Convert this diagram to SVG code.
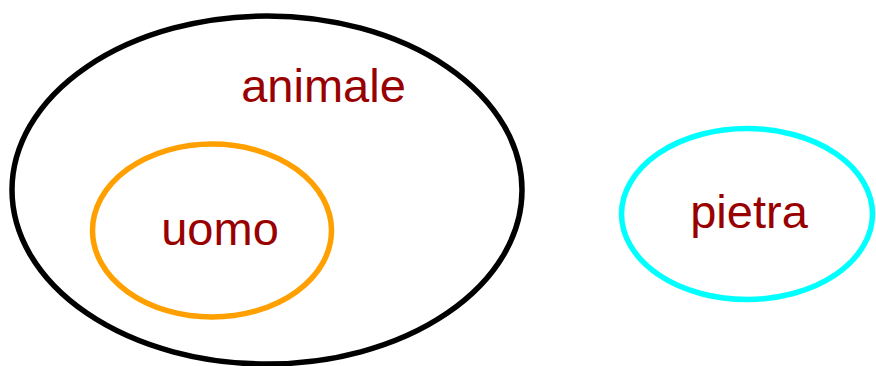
<svg xmlns="http://www.w3.org/2000/svg" width="876" height="366" viewBox="0 0 876 366">
  <style>
    .set { fill: none; stroke-width: 5.5; }
    .label { font-family: "Liberation Sans", Arial, sans-serif; font-size: 47px; fill: #990000; text-anchor: middle; }
  </style>
  <rect width="876" height="366" fill="#ffffff"/>
  <g id="animale">
    <ellipse class="set" cx="267" cy="190" rx="255" ry="174" stroke="#000000"/>
    <text class="label" x="323.5" y="102">animale</text>
  </g>
  <g id="uomo">
    <ellipse class="set" cx="212" cy="230.5" rx="119.5" ry="86.5" stroke="#ffa000"/>
    <text class="label" x="220" y="245">uomo</text>
  </g>
  <g id="pietra">
    <ellipse class="set" cx="747" cy="214" rx="125.5" ry="85.5" stroke="#00ffff"/>
    <text class="label" x="749" y="228">pietra</text>
  </g>
  <g id="connectors"></g>
</svg>
